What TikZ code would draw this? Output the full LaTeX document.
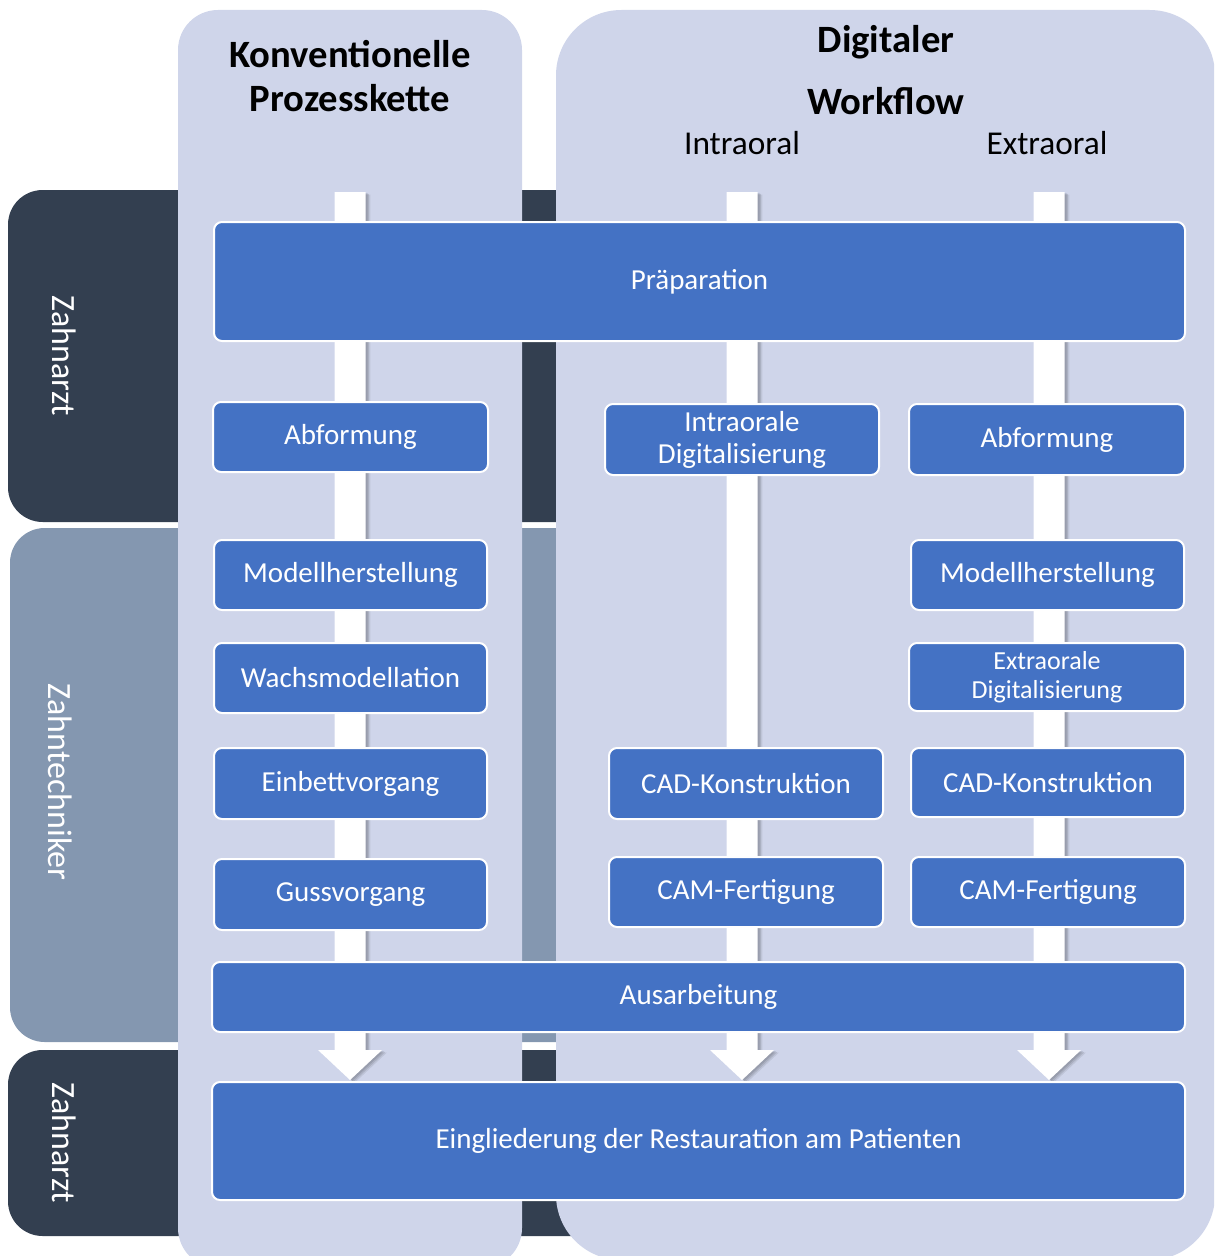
\documentclass[tikz,border=0pt]{standalone}
\usepackage{fontspec}
\setmainfont{Carlito}
\definecolor{darkband}{HTML}{333F50}
\definecolor{midband}{HTML}{8497B0}
\definecolor{colbg}{HTML}{CFD5EA}
\definecolor{boxblue}{HTML}{4472C4}
\newcommand\bx[6]{\node[blbox, minimum width={(#4-#2)*0.75pt}, minimum height={(#5-#3)*0.75pt}] (#1) at ({(#2+#4)/2},{(#3+#5)/2}) {#6};}
\newcommand\arrpath[2]{([xshift=-11.625pt]#1) -- ([xshift=11.625pt]#1) -- ([xshift=11.625pt,yshift=22.5pt]#2) -- ([xshift=24pt,yshift=22.5pt]#2) -- (#2) -- ([xshift=-24pt,yshift=22.5pt]#2) -- ([xshift=-11.625pt,yshift=22.5pt]#2) -- cycle}
\newcommand\flowarrow[2]{%
  \fill[black,opacity=0.10,transform canvas={xshift=1.5pt,yshift=-0.8pt}] \arrpath{#1}{#2};
  \fill[black,opacity=0.10,transform canvas={xshift=2.6pt,yshift=-1.4pt}] \arrpath{#1}{#2};
  \fill[black,opacity=0.08,transform canvas={xshift=3.6pt,yshift=-2pt}] \arrpath{#1}{#2};
  \fill[white] \arrpath{#1}{#2};}
\tikzset{
  blbox/.style={draw=white, line width=1.5pt, fill=boxblue, rounded corners=6pt, text=white, font=\fontsize{21.75}{24}\selectfont, align=center, inner sep=0pt, outer sep=0pt},
  smallbox/.style={font=\fontsize{19.5}{21.75}\selectfont},
  headtxt/.style={font=\bfseries\fontsize{29}{33}\selectfont, text=black, align=center, inner sep=0pt},
  subtxt/.style={font=\fontsize{25}{28}\selectfont, text=black, inner sep=0pt},
  roletxt/.style={font=\fontsize{25.5}{28}\selectfont, text=white, rotate=-90, inner sep=0pt},
}
\begin{document}
\begin{tikzpicture}[x=0.75pt,y=-0.75pt]
\useasboundingbox (0,0) rectangle (1214,1256);
\clip (0,0) rectangle (1214,1256);
% role bands
\fill[darkband, rounded corners=26pt] (8,190) rectangle (700,522);
\fill[midband, rounded corners=26pt] (10,528) rectangle (700,1042);
\fill[darkband, rounded corners=26pt] (8,1050) rectangle (700,1236);
% columns
\fill[colbg, rounded corners=30pt] (178,10) rectangle (522,1268);
\fill[colbg, rounded corners=49pt] (556,10) rectangle (1215,1260);
% arrows
\coordinate (a1s) at (350,192);
\coordinate (a1e) at (350,1080);
\coordinate (a2s) at (742,192);
\coordinate (a2e) at (742,1080);
\coordinate (a3s) at (1049,192);
\coordinate (a3e) at (1049,1080);
\flowarrow{a1s}{a1e}
\flowarrow{a2s}{a2e}
\flowarrow{a3s}{a3e}
% boxes
\bx{prep}{214}{222}{1185}{341}{Präparation}
\bx{abf1}{213}{402}{488}{472}{Abformung}
\bx{intra}{605}{404}{879}{475}{Intraorale\\Digitalisierung}
\bx{abf2}{909}{404}{1185}{475}{Abformung}
\bx{mod1}{214}{540}{487}{610}{Modellherstellung}
\bx{mod2}{911}{540}{1184}{610}{Modellherstellung}
\bx{wachs}{214}{643}{487}{713}{Wachsmodellation}
\node[blbox, smallbox, minimum width={276*0.75pt}, minimum height={68*0.75pt}] (extra) at (1047,677) {Extraorale\\Digitalisierung};
\bx{einb}{214}{748}{487}{819}{Einbettvorgang}
\bx{cad1}{609}{748}{883}{819}{CAD-Konstruktion}
\bx{cad2}{911}{748}{1185}{817}{CAD-Konstruktion}
\bx{guss}{214}{859}{487}{930}{Gussvorgang}
\bx{cam1}{609}{857}{883}{927}{CAM-Fertigung}
\bx{cam2}{911}{857}{1185}{927}{CAM-Fertigung}
\bx{ausa}{212}{962}{1185}{1032}{Ausarbeitung}
\bx{eing}{212}{1082}{1185}{1200}{Eingliederung der Restauration am Patienten}
% headings
\node[headtxt] (konv) at (350,76) {Konventionelle\\Prozesskette};
\node[headtxt] (dig1) at (886,42) {Digitaler};
\node[headtxt] (dig2) at (886,101) {Workflow};
\node[subtxt] (intrah) at (742,143) {Intraoral};
\node[subtxt] (extrah) at (1047,143) {Extraoral};
% roles
\node[roletxt] (z1) at (64,356) {Zahnarzt};
\node[roletxt] (z2) at (60,782) {Zahntechniker};
\node[roletxt] (z3) at (64,1143) {Zahnarzt};
\end{tikzpicture}
\end{document}
